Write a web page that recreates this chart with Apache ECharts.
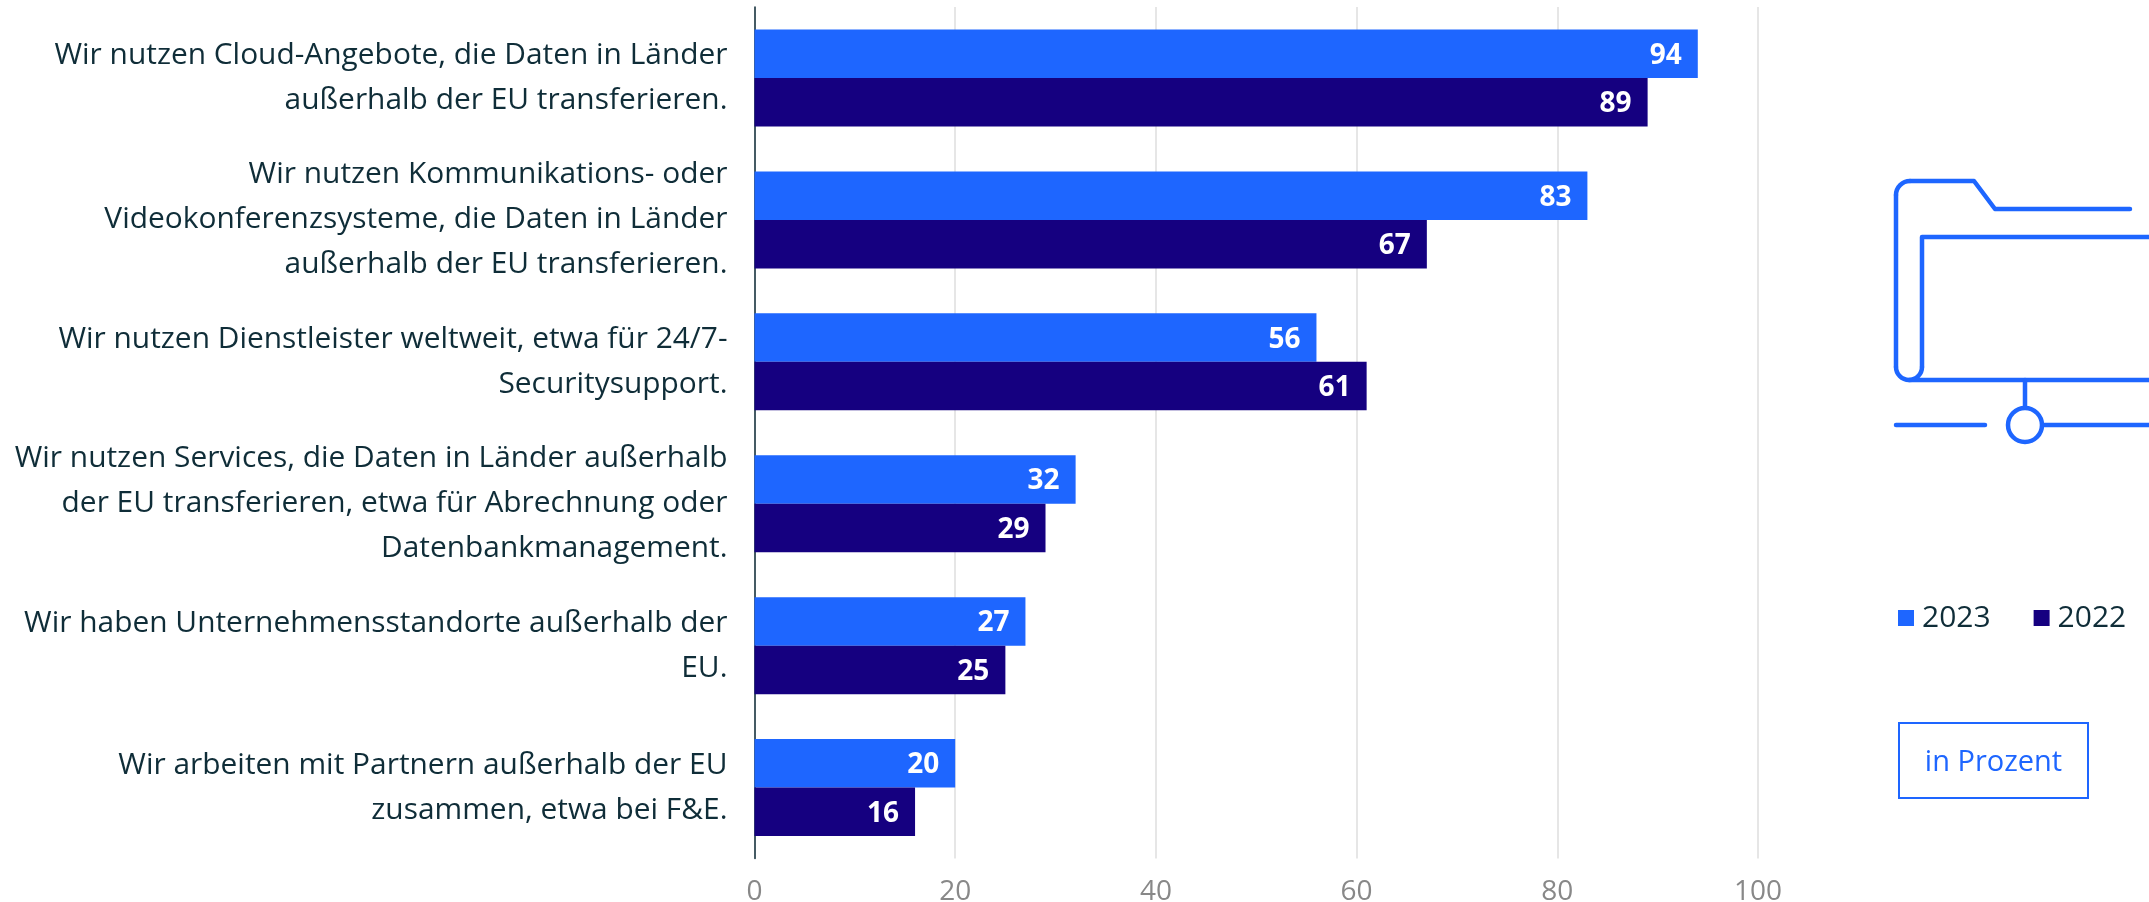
<!DOCTYPE html>
<html><head><meta charset="utf-8">
<style>html,body{margin:0;padding:0;background:#fff}#c{width:2149px;height:902px}</style>
<script src="https://cdn.jsdelivr.net/npm/echarts@6/dist/echarts.min.js"></script></head>
<body><div id="c"></div>
<script>
const categories = [
 "Wir nutzen Cloud-Angebote, die Daten in Länder\naußerhalb der EU transferieren.",
 "Wir nutzen Kommunikations- oder\nVideokonferenzsysteme, die Daten in Länder\naußerhalb der EU transferieren.",
 "Wir nutzen Dienstleister weltweit, etwa für 24/7-\nSecuritysupport.",
 "Wir nutzen Services, die Daten in Länder außerhalb\nder EU transferieren, etwa für Abrechnung oder\nDatenbankmanagement.",
 "Wir haben Unternehmensstandorte außerhalb der\nEU.",
 "Wir arbeiten mit Partnern außerhalb der EU\nzusammen, etwa bei F&E."
];
const values2023 = [94, 83, 56, 32, 27, 20];
const values2022 = [89, 67, 61, 29, 25, 16];
const FONT = "'Open Sans'";
const BLUE = "#1e66ff", NAVY = "#150080", INK = "#0f2d38";
const stroke = {stroke: BLUE, lineWidth: 4.5, fill: null, lineCap: "round", lineJoin: "round"};
const label = {show: true, position: "insideRight", distance: 16, offset: [0, 2], color: "#fff", fontFamily: FONT, fontWeight: 700, fontSize: 28};
const iconLine = pts => ({type: "polyline", silent: true, shape: {points: pts}, style: stroke});
const iconArc = (cx, cy, r, a, b) => ({type: "arc", silent: true, shape: {cx, cy, r, startAngle: a, endAngle: b, clockwise: true}, style: stroke});
const chart = echarts.init(document.getElementById("c"));
chart.setOption({
  animation: false,
  textStyle: {fontFamily: FONT},
  grid: {left: 754.5, right: 391, top: 7, bottom: 43.5, outerBoundsMode: "none"},
  legend: {left: 1893, top: 598, itemWidth: 16, itemHeight: 16, itemGap: 43, icon: "rect",
    textStyle: {fontFamily: FONT, fontSize: 30, color: INK, padding: [0, 0, 0, 3]},
    data: ["2023", "2022"]},
  xAxis: {type: "value", min: 0, max: 100, interval: 20,
    axisLine: {show: false}, axisTick: {show: false},
    axisLabel: {color: "#888", fontSize: 28, margin: 20, fontFamily: FONT},
    splitLine: {lineStyle: {color: "#dedede", width: 1.5}}},
  yAxis: {type: "category", inverse: true, data: categories,
    axisLine: {lineStyle: {color: INK, width: 1.5}}, axisTick: {show: false},
    axisLabel: {color: INK, fontSize: 29.9, lineHeight: 45, margin: 27, align: "right", fontFamily: FONT, padding: [8, 0, 0, 0]}},
  series: [
    {name: "2023", type: "bar", data: values2023, barWidth: 48.5, barGap: 0, itemStyle: {color: BLUE}, label},
    {name: "2022", type: "bar", data: values2022, barWidth: 48.5, barGap: 0, itemStyle: {color: NAVY}, label}
  ],
  graphic: [
    iconLine([[2130, 209], [1995, 209], [1974, 181], [1910, 181]]),
    iconArc(1910, 195, 14, Math.PI, Math.PI * 1.5),
    iconLine([[1896, 195], [1896, 367]]),
    iconArc(1909, 367, 13, 0, Math.PI),
    iconLine([[1922, 367], [1922, 237], [2149, 237]]),
    iconLine([[1909, 380], [2149, 380]]),
    iconLine([[2025, 380], [2025, 407]]),
    iconLine([[1896, 425], [1985, 425]]),
    iconLine([[2043, 425], [2149, 425]]),
    {type: "circle", silent: true, shape: {cx: 2025, cy: 425, r: 17}, style: {stroke: BLUE, lineWidth: 4.5, fill: "#fff"}},
    {type: "rect", silent: true, shape: {x: 1899, y: 723, width: 189, height: 75}, style: {stroke: BLUE, lineWidth: 2, fill: "#fff"}},
    {type: "text", silent: true, x: 1993.5, y: 763, style: {text: "in Prozent", fill: BLUE, fontFamily: FONT, fontSize: 29, align: "center", verticalAlign: "middle"}}
  ]
});
</script></body></html>
